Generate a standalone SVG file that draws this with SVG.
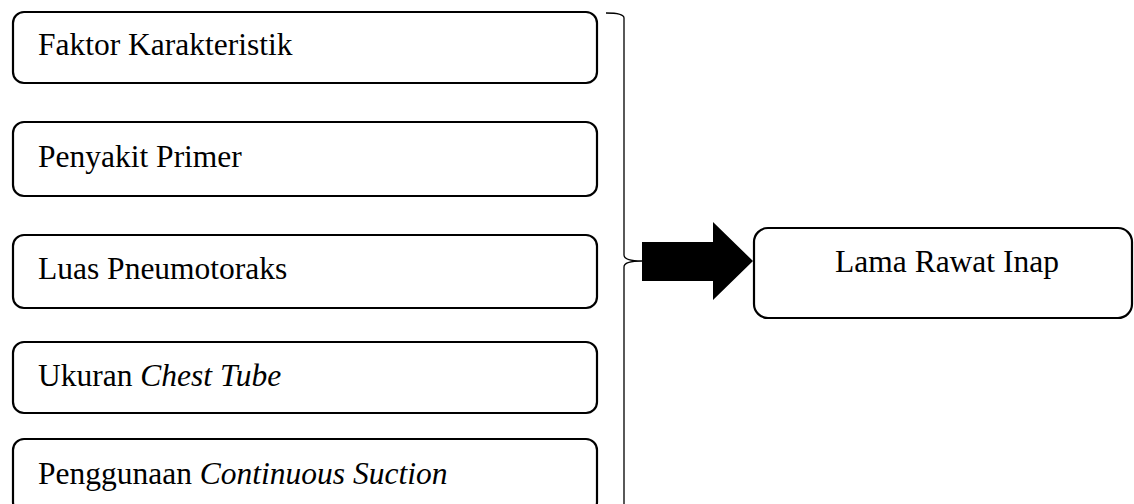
<svg xmlns="http://www.w3.org/2000/svg" width="1134" height="504" viewBox="0 0 1134 504">
  <style>
    .box { fill: #ffffff; stroke: #000000; stroke-width: 2.2; }
    .lbl { font-family: "Liberation Serif", "Times New Roman", serif; font-size: 31.5px; fill: #000000; }
    .it { font-style: italic; }
    .brace { fill: none; stroke: #000000; stroke-width: 1.3; }
  </style>
  <rect width="1134" height="504" fill="#ffffff"/>

  <g id="faktor-karakteristik">
    <rect class="box" x="13" y="12" width="584" height="71" rx="11"/>
    <text class="lbl" x="38" y="55">Faktor Karakteristik</text>
  </g>
  <g id="penyakit-primer">
    <rect class="box" x="13" y="122" width="584" height="74" rx="11"/>
    <text class="lbl" x="38" y="167">Penyakit Primer</text>
  </g>
  <g id="luas-pneumotoraks">
    <rect class="box" x="13" y="235" width="584" height="73" rx="11"/>
    <text class="lbl" x="38" y="279">Luas Pneumotoraks</text>
  </g>
  <g id="ukuran-chest-tube">
    <rect class="box" x="13" y="342" width="584" height="71" rx="11"/>
    <text class="lbl" x="38" y="386">Ukuran <tspan class="it">Chest Tube</tspan></text>
  </g>
  <g id="continuous-suction">
    <rect class="box" x="13" y="439" width="584" height="74" rx="11"/>
    <text class="lbl" x="38" y="484">Penggunaan <tspan class="it">Continuous Suction</tspan></text>
  </g>

  <g id="lama-rawat-inap">
    <rect class="box" x="754" y="228" width="378" height="90" rx="14"/>
    <text class="lbl" x="947" y="272" text-anchor="middle">Lama Rawat Inap</text>
  </g>

  <g id="connectors">
    <!-- right-hand brace grouping the five factors -->
    <path class="brace" d="M606,13 Q624,13 624,18 L624,255 Q624,261 642,261 Q624,261 624,267 L624,510"/>
    <!-- block arrow into the outcome -->
    <polygon points="642,242 713,242 713,222 753,261 713,300 713,281 642,281" fill="#000000"/>
  </g>
</svg>
